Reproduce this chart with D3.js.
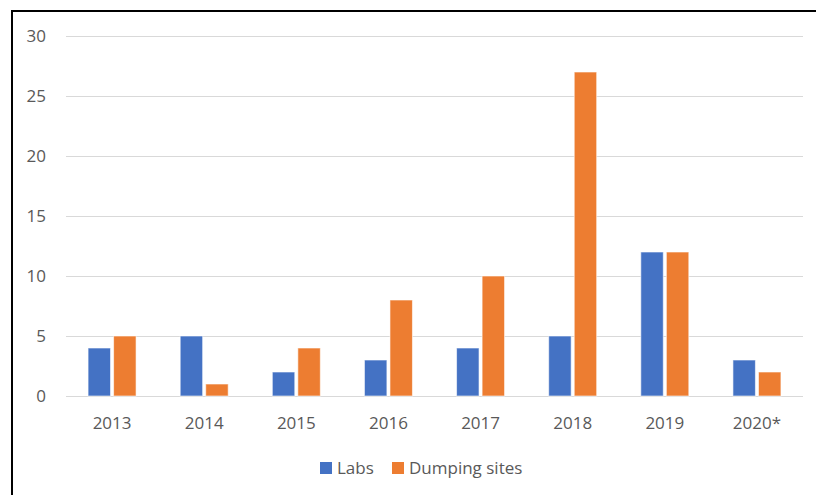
<!DOCTYPE html>
<html><head><meta charset="utf-8">
<script src="https://cdn.jsdelivr.net/npm/d3@7"></script>
<style>body{margin:0;background:#fff}svg{display:block}svg text{font-family:"Open Sans","Noto Sans",sans-serif !important}</style>
</head><body>
<script>
const categories = ["2013","2014","2015","2016","2017","2018","2019","2020*"];
const labs = [4,5,2,3,4,5,12,3];
const dumping = [5,1,4,8,10,27,12,2];
const seriesNames = ["Labs","Dumping sites"];
const yTicks = [0,5,10,15,20,25,30];
const colors = ["#4472C4","#ED7D31"];

const W=816,H=495;
const svg=d3.select("body").append("svg").attr("width",W).attr("height",H);
svg.append("rect").attr("width",W).attr("height",H).attr("fill","#fff");
svg.append("path").attr("d",`M12,${H} L12,11 L${W},11`).attr("fill","none").attr("stroke","#000").attr("stroke-width",2);

const m={l:66,r:803,t:36,b:396};
const x=d3.scaleBand().domain(categories).range([m.l,m.r]);
const y=d3.scaleLinear().domain([0,30]).range([m.b,m.t]);

svg.append("g").selectAll("line").data(yTicks).join("line")
 .attr("x1",m.l).attr("x2",m.r).attr("y1",d=>Math.round(y(d))+0.5).attr("y2",d=>Math.round(y(d))+0.5)
 .attr("stroke","#d9d9d9").attr("stroke-width",1.2);

const fs="17px";
const ya=svg.append("g").attr("transform","translate(46,0)").call(d3.axisLeft(y).tickValues(yTicks).tickSize(0).tickPadding(0));
ya.select(".domain").remove();
ya.selectAll("text").attr("fill","#595959").style("font-size",fs).attr("dy","0.35em");

const xa=svg.append("g").attr("transform",`translate(0,${m.b+27})`).call(d3.axisBottom(x).tickSize(0).tickPadding(0));
xa.select(".domain").remove();
xa.selectAll("text").attr("fill","#595959").style("font-size",fs).attr("dy","0.35em");

const inner=d3.scaleBand().domain([0,1]).range([0,48]).paddingInner(0.12);
[labs,dumping].forEach((vals,si)=>{
  svg.append("g").selectAll("rect").data(vals).join("rect")
   .attr("x",(d,i)=>x(categories[i])+x.bandwidth()/2-24+inner(si))
   .attr("width",inner.bandwidth())
   .attr("y",d=>y(d)).attr("height",d=>y(0)-y(d))
   .attr("fill",colors[si]).attr("stroke","#fff").attr("stroke-opacity",0.6).attr("stroke-width",1);
});

const lg=svg.append("g").attr("transform","translate(0,468)");
const items=[{n:seriesNames[0],x:320},{n:seriesNames[1],x:392}];
items.forEach((it,i)=>{
  lg.append("rect").attr("x",it.x).attr("y",-6).attr("width",12).attr("height",12).attr("fill",colors[i]);
  lg.append("text").attr("x",it.x+17).attr("y",0).attr("dy","0.35em").attr("fill","#595959").style("font-size",fs).text(it.n);
});
</script>
</body></html>
